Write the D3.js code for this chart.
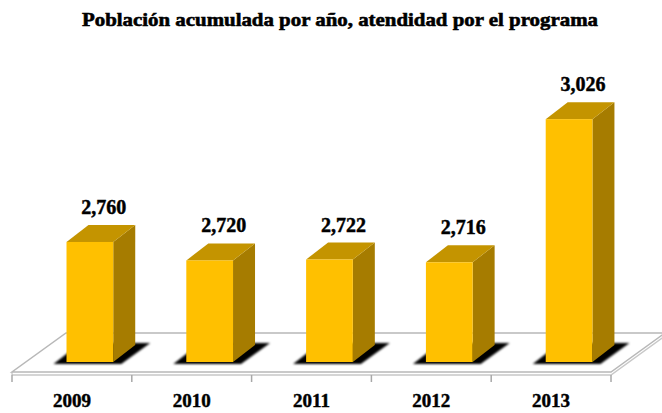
<!DOCTYPE html>
<html>
<head>
<meta charset="utf-8">
<script src="https://cdn.jsdelivr.net/npm/d3@7"></script>
<style>
  body { margin: 0; background: #fff; }
  svg { display: block; }
  text { font-family: "Liberation Serif", "Times New Roman", serif; font-weight: bold; fill: #000; stroke: #000; stroke-width: 0.45; }
</style>
</head>
<body>
<div class="container"></div>
<script>
const width = 662,
    height = 413;

const years = ['2009', '2010', '2011', '2012', '2013'];
const values = [2760, 2720, 2722, 2716, 3026];
const yDomain = [2500, 3100];
const title = 'Población acumulada por año, atendidad por el programa';

const frontColor = '#ffc000',
    topColor = '#c49400',
    sideColor = '#a67c00';

const svg = d3.select('.container')
    .append('svg')
    .attr('width', width)
    .attr('height', height);

const defs = svg.append('defs');
defs.append('filter')
    .attr('id', 'blur')
    .attr('x', '-20%').attr('y', '-40%')
    .attr('width', '140%').attr('height', '180%')
    .append('feGaussianBlur')
    .attr('stdDeviation', 1.3);

const x = d3.scaleBand()
    .domain(years)
    .range([12, 611]);

const y = d3.scaleLinear()
    .domain(yDomain)
    .range([362, 85]);

// depth of floor and bars
const floorD = { dx: 54, dy: -39 },
    barD = { dx: 22, dy: -17 };
const floorFront = 372;

// floor
const x0 = x.range()[0], x1 = x.range()[1];
const floor = svg.append('g').attr('class', 'floor');

floor.append('path')
    .attr('d', `M${x0},${floorFront}L${x1},${floorFront}L${x1 + floorD.dx},${floorFront + floorD.dy}L${x0 + floorD.dx},${floorFront + floorD.dy}Z`)
    .attr('fill', '#fff')
    .attr('stroke', '#b8b8b8')
    .attr('stroke-width', 1.5);

floor.append('path')
    .attr('d', `M${x0},${floorFront + 3}L${x1},${floorFront + 3}L${x1 + floorD.dx},${floorFront + 3 + floorD.dy}`)
    .attr('fill', 'none')
    .attr('stroke', '#c8c8c8')
    .attr('stroke-width', 1.5);

floor.append('line')
    .attr('x1', x0).attr('x2', x0)
    .attr('y1', floorFront).attr('y2', floorFront + 3)
    .attr('stroke', '#b8b8b8');

// ticks at band edges
const edges = years.map(d => x(d)).concat([x1]);
floor.selectAll('.tick')
    .data(edges)
    .enter()
    .append('line')
    .attr('class', 'tick')
    .attr('x1', d => d).attr('x2', d => d)
    .attr('y1', floorFront + 3).attr('y2', floorFront + 10)
    .attr('stroke', '#a8a8a8')
    .attr('stroke-width', 1.5);

const bw = x.bandwidth() * 0.39,
    off = x.bandwidth() * 0.455,
    base = y(yDomain[0]);

const bars = svg.selectAll('.bar')
    .data(years.map((d, i) => ({ year: d, value: values[i] })))
    .enter()
    .append('g')
    .attr('class', 'bar');

// shadow on the floor
bars.append('path')
    .attr('d', d => {
        const bx = x(d.year) + off;
        return `M${bx - 13},${base + 2}L${bx + bw + 8},${base + 2}` +
            `L${bx + bw + barD.dx + 15},${base + barD.dy - 2}L${bx + barD.dx - 8},${base + barD.dy - 2}Z`;
    })
    .attr('fill', '#000')
    .attr('filter', 'url(#blur)');

// side face
bars.append('path')
    .attr('d', d => {
        const bx = x(d.year) + off + bw, ty = y(d.value);
        return `M${bx},${ty}L${bx + barD.dx},${ty + barD.dy}L${bx + barD.dx},${base + barD.dy}L${bx},${base}Z`;
    })
    .attr('fill', sideColor);

// top face
bars.append('path')
    .attr('d', d => {
        const bx = x(d.year) + off, ty = y(d.value);
        return `M${bx},${ty}L${bx + bw},${ty}L${bx + bw + barD.dx},${ty + barD.dy}L${bx + barD.dx},${ty + barD.dy}Z`;
    })
    .attr('fill', topColor);

// front face
bars.append('rect')
    .attr('x', d => x(d.year) + off)
    .attr('y', d => y(d.value))
    .attr('width', bw)
    .attr('height', d => base - y(d.value))
    .attr('fill', frontColor);

// value labels
bars.append('text')
    .attr('x', d => x(d.year) + off + bw / 2 + 14)
    .attr('y', d => y(d.value) + barD.dy - 11)
    .attr('text-anchor', 'middle')
    .attr('font-size', 20)
    .text(d => d3.format(',')(d.value));

// year labels
svg.selectAll('.year')
    .data(years)
    .enter()
    .append('text')
    .attr('class', 'year')
    .attr('x', d => x(d) + x.bandwidth() / 2)
    .attr('y', 407)
    .attr('text-anchor', 'middle')
    .attr('font-size', 19)
    .text(d => d);

svg.append('text')
    .attr('x', 82)
    .attr('y', 26)
    .attr('font-size', 19)
    .attr('textLength', 516)
    .attr('lengthAdjust', 'spacingAndGlyphs')
    .style('stroke-width', 0.6)
    .text(title);
</script>
</body>
</html>
